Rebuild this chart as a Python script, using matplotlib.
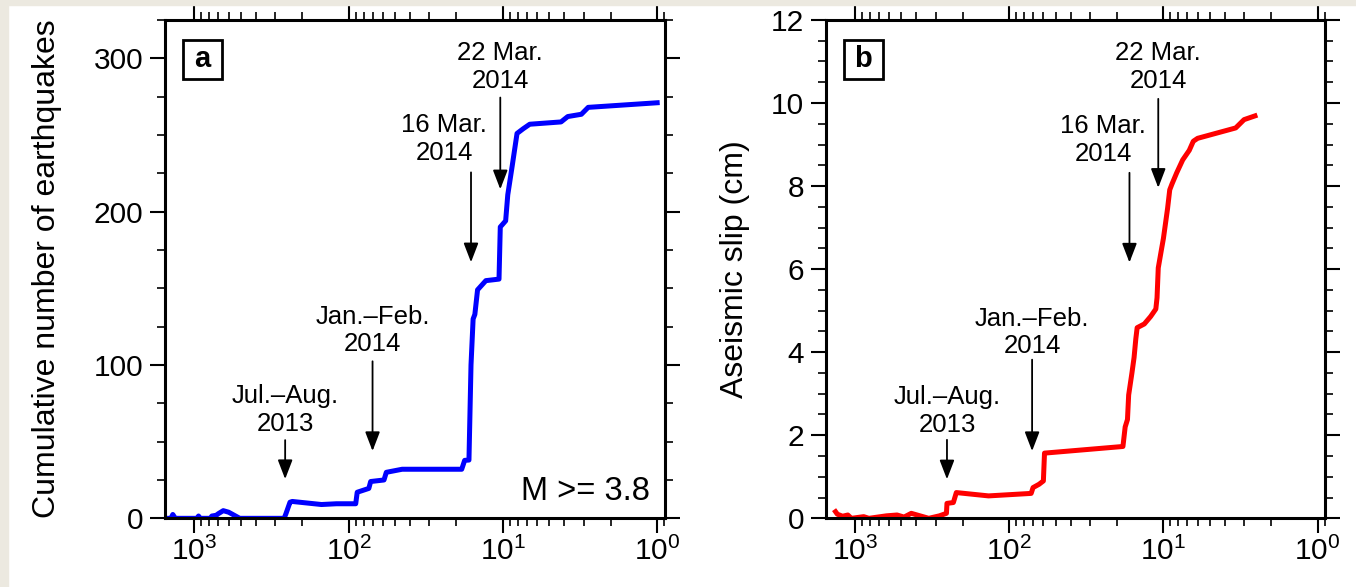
import numpy as np
import matplotlib.pyplot as plt
from matplotlib.ticker import MultipleLocator, LogLocator, NullFormatter
from matplotlib.patches import Rectangle

plt.rcParams['font.family'] = ['Liberation Sans', 'DejaVu Sans']
plt.rcParams['mathtext.fontset'] = 'custom'
plt.rcParams['mathtext.rm'] = 'Liberation Sans'
plt.rcParams['mathtext.it'] = 'Liberation Sans:italic'

# panel a : cumulative number of earthquakes (days before mainshock)
days_a = [1540, 1420, 1380, 1330, 960, 940, 915, 790, 770, 720,
          700, 650, 600, 508, 262, 255, 240, 232, 150, 120,
          90, 88, 74, 72, 59, 57, 45, 18.5, 17.7, 16.6,
          16.1, 15.6, 15.2, 14.6, 12.9, 10.6, 10.4, 9.6, 9.3, 8.7,
          8.1, 7.4, 6.7, 4.2, 3.8, 3.1, 2.8, 1.0]
count_a = [0, 0, 2.5, 0, 0, 1.5, 0, 0, 1.5, 2,
           3, 5, 4, 0, 0, 3, 10.5, 11, 9, 9.5,
           9.5, 17, 19.5, 24, 25, 30, 32, 32, 37.8, 38,
           100, 130, 133, 149, 155, 156, 190, 194, 211, 230,
           251, 254, 257, 258.5, 262, 263.5, 268, 271]

# panel b : aseismic slip (cm)
days_b = [1335, 1300, 1202, 1111, 1054, 877, 811, 624, 533, 480,
          431, 332, 283, 255, 253, 230, 220, 136, 72, 70,
          64, 60, 59, 18.3, 17.7, 17.1, 16.8, 16.0, 15.5, 15.1,
          14.8, 13.3, 12.1, 11.2, 11.0, 10.8, 10.3, 10.0, 9.4, 9.1,
          8.8, 8.2, 7.5, 6.8, 6.4, 6.0, 3.4, 3.0, 2.55]
slip_b = [0.16, 0.10, 0.05, 0.08, 0.0, 0.04, 0.0, 0.06, 0.08, 0.03,
          0.12, 0.0, 0.06, 0.12, 0.36, 0.38, 0.62, 0.54, 0.60, 0.74,
          0.82, 0.90, 1.57, 1.73, 2.20, 2.38, 2.97, 3.5, 3.87, 4.32,
          4.59, 4.68, 4.86, 5.04, 5.31, 6.03, 6.47, 6.74, 7.46, 7.91,
          8.05, 8.32, 8.63, 8.86, 9.08, 9.15, 9.4, 9.6, 9.69]

# annotations : label, arrow x, text position, arrow tail/head
ann_labels = ['Jul.\u2013Aug.\n2013', 'Jan.\u2013Feb.\n2014', '16 Mar.\n2014', '22 Mar.\n2014']
ann_x_a = [258, 70, 16.1, 10.4]
ann_tx_a = [258, 70, 24.0, 10.4]
ann_ty_a = [70.8, 122.5, 247.5, 294.5]
ann_tail_a = [51, 102.4, 225.6, 274.4]
ann_head_a = [25.6, 43.9, 167, 214.6]

ann_x_b = [253, 71, 16.6, 10.8]
ann_tx_b = [253, 71, 24.5, 10.8]
ann_ty_b = [2.585, 4.475, 9.1, 10.86]
ann_tail_b = [1.89, 3.82, 8.32, 10.1]
ann_head_b = [0.94, 1.62, 6.16, 7.96]

fig = plt.figure(figsize=(13.56, 5.87), dpi=100)
beige = '#ece9e0'
fig.patches.append(Rectangle((0, 1 - 5 / 587), 1, 5 / 587, transform=fig.transFigure,
                             color=beige, zorder=0))
fig.patches.append(Rectangle((0, 0), 8 / 1356, 1, transform=fig.transFigure,
                             color=beige, zorder=0))

ax_a = fig.add_axes([0.1217, 0.117, 0.3687, 0.849])
ax_b = fig.add_axes([0.6088, 0.117, 0.3687, 0.849])


def style(ax, ymax, major, minor, letter):
    ax.set_xscale('log')
    ax.set_xlim(1550, 0.89)
    ax.set_ylim(0, ymax)
    ax.xaxis.set_major_locator(LogLocator(base=10, numticks=10))
    ax.xaxis.set_minor_locator(LogLocator(base=10, subs=np.arange(2, 10), numticks=10))
    ax.xaxis.set_minor_formatter(NullFormatter())
    ax.yaxis.set_major_locator(MultipleLocator(major))
    ax.yaxis.set_minor_locator(MultipleLocator(minor))
    ax.tick_params(which='both', direction='out', top=True, right=True,
                   labelsize=21.5, color='black')
    ax.tick_params(which='major', length=10.5, width=1.5)
    ax.tick_params(axis='y', which='major', pad=5)
    ax.tick_params(axis='x', which='major', pad=3)
    ax.tick_params(which='minor', length=5.5, width=1.2)
    for s in ax.spines.values():
        s.set_linewidth(2.2)
    ax.add_patch(Rectangle((0.036, 0.8816), 0.078, 0.0783, transform=ax.transAxes,
                           facecolor='white', edgecolor='black', lw=2, zorder=5))
    ax.text(0.075, 0.921, letter, transform=ax.transAxes, ha='center', va='center',
            fontsize=21, fontweight='bold', zorder=6)


def arrows(ax, xs, txs, tys, tails, heads):
    for lab, x, tx, ty, t, h in zip(ann_labels, xs, txs, tys, tails, heads):
        ax.annotate('', xy=(x, h), xytext=(x, t),
                    arrowprops=dict(arrowstyle='-|>,head_length=0.65,head_width=0.25',
                                    color='black', lw=1.3, mutation_scale=18,
                                    shrinkA=0, shrinkB=0))
        ax.text(tx, ty, lab, ha='center', va='center', fontsize=18.5, linespacing=1.2)


style(ax_a, 325, 100, 25, 'a')
ax_a.plot(days_a, count_a, color='#0000ff', lw=3.6)
arrows(ax_a, ann_x_a, ann_tx_a, ann_ty_a, ann_tail_a, ann_head_a)
ax_a.text(0.97, 0.037, 'M >= 3.8', transform=ax_a.transAxes, ha='right', va='baseline',
          fontsize=23.5)
ax_a.set_ylabel('Cumulative number of earthquakes', fontsize=23)
ax_a.yaxis.set_label_coords(-0.206, 0.5)

style(ax_b, 12, 2, 0.5, 'b')
ax_b.plot(days_b, slip_b, color='#ff0000', lw=3.6)
arrows(ax_b, ann_x_b, ann_tx_b, ann_ty_b, ann_tail_b, ann_head_b)
ax_b.set_ylabel('Aseismic slip (cm)', fontsize=23)
ax_b.yaxis.set_label_coords(-0.152, 0.5)

fig.savefig('out.png', dpi=100)
